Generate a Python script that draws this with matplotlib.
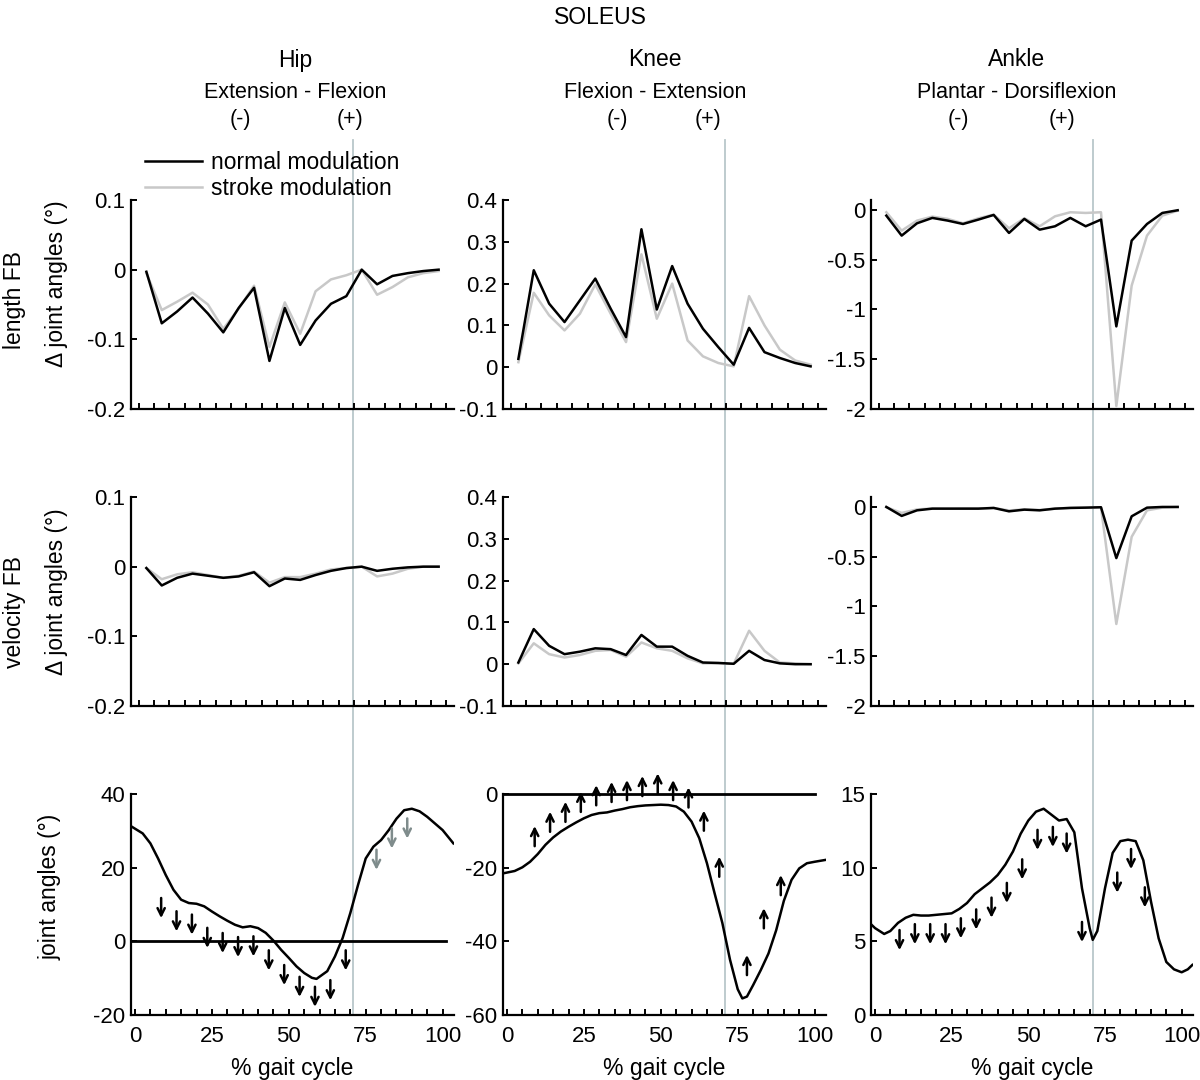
import matplotlib.pyplot as plt
from matplotlib.lines import Line2D
import numpy as np

plt.rcParams['font.family'] = ['Liberation Sans', 'DejaVu Sans']
plt.rcParams['axes.unicode_minus'] = False

# ---- data ----
# feedback rows: one value per 5% bin (bin centres)
bin_x = np.arange(2.5, 100, 5)

len_hip_normal = [-0.003, -0.077, -0.060, -0.040, -0.063, -0.090, -0.055, -0.026, -0.131, -0.055,
                  -0.108, -0.073, -0.049, -0.038, 0.000, -0.021, -0.009, -0.005, -0.002, 0.000]
len_hip_stroke = [-0.005, -0.058, -0.046, -0.033, -0.050, -0.085, -0.056, -0.023, -0.111, -0.047,
                  -0.092, -0.031, -0.014, -0.008, 0.000, -0.036, -0.025, -0.011, -0.005, -0.002]
len_knee_normal = [0.020, 0.232, 0.152, 0.108, 0.160, 0.212, 0.140, 0.072, 0.330, 0.138,
                   0.242, 0.152, 0.092, 0.048, 0.006, 0.094, 0.036, 0.022, 0.010, 0.002]
len_knee_stroke = [0.012, 0.178, 0.124, 0.088, 0.128, 0.198, 0.128, 0.060, 0.270, 0.116,
                   0.200, 0.064, 0.026, 0.010, 0.002, 0.170, 0.100, 0.042, 0.016, 0.006]
len_ankle_normal = [-0.057, -0.258, -0.134, -0.080, -0.107, -0.141, -0.097, -0.050, -0.231, -0.090,
                    -0.198, -0.164, -0.080, -0.164, -0.097, -1.170, -0.308, -0.141, -0.030, -0.003]
len_ankle_stroke = [-0.023, -0.208, -0.107, -0.067, -0.090, -0.134, -0.084, -0.047, -0.184, -0.084,
                    -0.164, -0.064, -0.023, -0.030, -0.023, -1.970, -0.760, -0.258, -0.057, -0.007]

vel_hip_normal = [-0.002, -0.027, -0.016, -0.010, -0.013, -0.016, -0.014, -0.008, -0.028, -0.017,
                  -0.019, -0.012, -0.006, -0.002, 0.000, -0.006, -0.003, -0.001, 0.000, 0.000]
vel_hip_stroke = [-0.002, -0.018, -0.011, -0.008, -0.012, -0.016, -0.013, -0.007, -0.023, -0.015,
                  -0.015, -0.010, -0.004, -0.002, 0.000, -0.014, -0.010, -0.003, 0.000, 0.000]
vel_knee_normal = [0.004, 0.084, 0.044, 0.024, 0.030, 0.038, 0.036, 0.022, 0.070, 0.042,
                   0.042, 0.020, 0.004, 0.003, 0.001, 0.032, 0.010, 0.002, 0.000, 0.000]
vel_knee_stroke = [0.002, 0.050, 0.024, 0.016, 0.022, 0.032, 0.034, 0.018, 0.052, 0.038,
                   0.032, 0.014, 0.002, 0.002, 0.001, 0.080, 0.032, 0.004, 0.002, 0.000]
vel_ankle_normal = [0.000, -0.090, -0.034, -0.017, -0.017, -0.017, -0.017, -0.010, -0.044, -0.027,
                    -0.034, -0.017, -0.010, -0.007, -0.003, -0.514, -0.094, -0.007, 0.000, 0.000]
vel_ankle_stroke = [-0.003, -0.060, -0.025, -0.015, -0.017, -0.015, -0.015, -0.010, -0.035, -0.025,
                    -0.030, -0.017, -0.008, -0.006, -0.003, -1.176, -0.300, -0.034, -0.007, 0.000]

# joint angle trajectories
hip_ang_x = [-1, 2.5, 5, 7.5, 10, 12.5, 15, 17.5, 20, 22.5, 25, 27.5, 30, 32.5, 35, 37.5, 40, 42.5,
             45, 47.5, 50, 52.5, 55, 57.5, 59, 62.5, 65, 67.5, 70, 72.5, 75, 77.5, 80, 82.5, 85,
             87.5, 90, 92.5, 95, 97.5, 100, 103.5]
hip_ang_y = [31.1, 29.3, 26.6, 22.5, 18, 14, 11.3, 10.4, 10.2, 9.5, 8.1, 6.8, 5.6, 4.5, 3.8, 4.1,
             3.6, 2.3, 0.2, -2.3, -4.5, -6.8, -8.6, -9.9, -10.2, -8.1, -4.1, 0.9, 7.7, 15.3, 22.5,
             25.7, 27.5, 30.2, 33.3, 35.6, 36, 35.3, 33.8, 32, 30.2, 26.6]
knee_ang_x = [-1, 2.5, 5, 7.5, 10, 12.5, 15, 17.5, 20, 22.5, 25, 27.5, 30, 32.5, 35, 37.5, 40, 42.5,
              45, 47.5, 50, 52.5, 55, 57.5, 60, 62.5, 65, 67.5, 70, 72.5, 75, 76.5, 78, 80, 82.5,
              85, 87.5, 90, 92.5, 95, 97.5, 100, 103.5]
knee_ang_y = [-21.5, -20.9, -19.9, -18.4, -16.3, -13.8, -11.8, -10.2, -8.9, -7.7, -6.6, -5.7, -5.2,
              -5.0, -4.5, -4.1, -3.6, -3.3, -3.1, -3.0, -2.9, -3.0, -3.4, -4.8, -7.5, -12, -18.8,
              -27, -35, -45, -53, -55.5, -55, -51.9, -47.8, -43.3, -37, -29, -23.3, -20.2, -18.8,
              -18.4, -17.9]
ankle_ang_x = [-1, 0, 3, 5, 7.5, 10, 12.5, 15, 17.5, 20, 22.5, 25, 27.5, 30, 32.5, 35, 37.5, 40,
               42.5, 45, 47.5, 50, 52.5, 55, 57.5, 60, 62.5, 65, 67.5, 70, 71, 72.5, 75, 77.5, 80,
               82.5, 85, 87.5, 90, 92.5, 95, 97.5, 100, 102, 103.5]
ankle_ang_y = [6.1, 5.9, 5.5, 5.7, 6.25, 6.6, 6.8, 6.75, 6.75, 6.8, 6.85, 6.9, 7.2, 7.6, 8.2, 8.6,
               9.0, 9.5, 10.2, 11.1, 12.3, 13.2, 13.8, 14.0, 13.6, 13.2, 13.3, 12.4, 8.6, 5.9, 5.1,
               5.7, 8.6, 11.0, 11.8, 11.9, 11.8, 10.5, 7.7, 5.2, 3.6, 3.1, 2.9, 3.1, 3.4]
hip_zero_x = [-1, 101]
knee_zero_x = [-1, 100]

# arrows (x position, arrow tip)
hip_arrow_x = [8.5, 13.5, 18.5, 23.5, 28.5, 33.5, 38.5, 43.5, 48.5, 53.5, 58.5, 63.5, 68.5]
hip_arrow_tip = [6.3, 2.7, 1.8, -1.8, -3.2, -4.3, -4.1, -7.9, -11.9, -15.1, -17.8, -16, -7.9]
hip_gray_x = [78.5, 83.5, 88.5]
hip_gray_tip = [19.4, 25.2, 27.9]
knee_arrow_x = [9, 14, 19, 24, 29, 34, 39, 44, 49, 54, 59, 64, 69, 78, 83.5, 89]
knee_arrow_tip = [-8.7, -4.8, -2.1, 0.6, 2.4, 3.3, 3.8, 4.9, 5.6, 3.8, 1.8, -4.5, -17, -43.7, -31, -22]
ankle_arrow_x = [8, 13, 18, 23, 28, 33, 38, 43, 48, 53, 58, 62.5, 67.5, 79, 83.5, 88]
ankle_arrow_tip = [4.4, 4.8, 4.8, 4.8, 5.2, 5.8, 6.6, 7.6, 9.2, 11.2, 11.4, 10.95, 4.95, 8.3, 9.9, 7.3]

toe_off = 71

BLACK = 'black'
GRAY = '#c8c8c8'
ARROW_GRAY = '#7f8c8c'
VLINE = '#b9c7ca'

W, H = 1200, 1080
fig = plt.figure(figsize=(12, 10.8), dpi=100)


def px_axes(l, t, r, b):
    return fig.add_axes([l / W, 1 - b / H, (r - l) / W, (b - t) / H])


def style(ax, xlim, ylim, yticks, ylabels, xlabels=False):
    ax.set_facecolor('none')
    ax.spines['top'].set_visible(False)
    ax.spines['right'].set_visible(False)
    ax.spines['left'].set_linewidth(1.6)
    ax.spines['bottom'].set_linewidth(1.6)
    ax.set_xlim(xlim)
    ax.set_ylim(ylim)
    ticks = list(range(0, 101, 5))
    ax.set_xticks(ticks)
    if xlabels:
        ax.set_xticklabels([str(t) if t % 25 == 0 else '' for t in ticks])
    else:
        ax.set_xticklabels([])
    ax.set_yticks(yticks)
    ax.set_yticklabels(ylabels)
    ax.tick_params(direction='in', length=4, width=1.4, labelsize=16, pad=4)
    ax.tick_params(axis='x', pad=8)


cols = [(131, 454), (503, 826), (871, 1193)]
rows = [(200, 409), (497, 706), (794, 1015)]
fb_lim = (-2.5, 102.5)
ang_lim = (-1.3, 103.7)

hip_ticks = ([-0.2, -0.1, 0, 0.1], ['-0.2', '-0.1', '0', '0.1'])
knee_ticks = ([-0.1, 0, 0.1, 0.2, 0.3, 0.4], ['-0.1', '0', '0.1', '0.2', '0.3', '0.4'])
ankle_ticks = ([-2, -1.5, -1, -0.5, 0], ['-2', '-1.5', '-1', '-0.5', '0'])
fb_ylims = [(-0.2, 0.1), (-0.1, 0.4), (-2, 0.1)]
fb_ticks = [hip_ticks, knee_ticks, ankle_ticks]

len_data = [(len_hip_normal, len_hip_stroke), (len_knee_normal, len_knee_stroke),
            (len_ankle_normal, len_ankle_stroke)]
vel_data = [(vel_hip_normal, vel_hip_stroke), (vel_knee_normal, vel_knee_stroke),
            (vel_ankle_normal, vel_ankle_stroke)]

for r, data in enumerate([len_data, vel_data]):
    for c in range(3):
        ax = px_axes(cols[c][0], rows[r][0], cols[c][1], rows[r][1])
        style(ax, fb_lim, fb_ylims[c], fb_ticks[c][0], fb_ticks[c][1])
        normal, stroke = data[c]
        ax.plot(bin_x, stroke, color=GRAY, lw=1.8, label='stroke modulation')
        ax.plot(bin_x, normal, color=BLACK, lw=1.8, label='normal modulation')
        if r == 0 and c == 0:
            h, l = ax.get_legend_handles_labels()
            ax.legend(h[::-1], l[::-1], loc='upper left', bbox_to_anchor=(145 / W, 1 - 151 / H),
                      bbox_transform=fig.transFigure, frameon=False, fontsize=16.5,
                      handlelength=2.5, handletextpad=0.4, labelspacing=0.12,
                      borderpad=0, borderaxespad=0)

# bottom row: joint angles
ang_axes = []
for c in range(3):
    ax = px_axes(cols[c][0], rows[2][0], cols[c][1], rows[2][1])
    ang_axes.append(ax)
    ax.set_xlabel('% gait cycle', fontsize=16.5, labelpad=7)

style(ang_axes[0], ang_lim, (-20, 40), [-20, 0, 20, 40], ['-20', '0', '20', '40'], True)
style(ang_axes[1], ang_lim, (-60, 0), [-60, -40, -20, 0], ['-60', '-40', '-20', '0'], True)
style(ang_axes[2], ang_lim, (0, 15), [0, 5, 10, 15], ['0', '5', '10', '15'], True)

ang_axes[0].plot(hip_ang_x, hip_ang_y, color=BLACK, lw=1.8)
ang_axes[0].plot(hip_zero_x, [0, 0], color=BLACK, lw=2.0)
ang_axes[1].plot(knee_ang_x, knee_ang_y, color=BLACK, lw=1.8)
ang_axes[1].plot(knee_zero_x, [0, 0], color=BLACK, lw=2.0, clip_on=False)
ang_axes[2].plot(ankle_ang_x, ankle_ang_y, color=BLACK, lw=1.8)


def arrows(ax, xs, tips, color, down=True):
    off = 14.5 if down else -14.5
    for x, y in zip(xs, tips):
        ax.annotate('', xy=(x, y), xytext=(0, off), textcoords='offset points',
                    arrowprops=dict(arrowstyle='->', lw=1.8, color=color,
                                    shrinkA=0, shrinkB=0, mutation_scale=13),
                    annotation_clip=False)


arrows(ang_axes[0], hip_arrow_x, hip_arrow_tip, BLACK)
arrows(ang_axes[0], hip_gray_x, hip_gray_tip, ARROW_GRAY)
arrows(ang_axes[1], knee_arrow_x, knee_arrow_tip, BLACK, down=False)
arrows(ang_axes[2], ankle_arrow_x, ankle_arrow_tip, BLACK)

# toe-off line through each column
for ax in ang_axes:
    xd, yd = fig.transFigure.inverted().transform(ax.transData.transform((toe_off, ax.get_ylim()[0])))
    fig.add_artist(Line2D([xd, xd], [yd, 1 - 140 / H], transform=fig.transFigure,
                          color=VLINE, lw=1.3, zorder=-1))

# headers
fig.text(600 / W, 1 - 17 / H, 'SOLEUS', ha='center', va='center', fontsize=16.5)
heads = [('Hip', 'Extension - Flexion', 295, 240, 350),
         ('Knee', 'Flexion - Extension', 655, 617, 708),
         ('Ankle', 'Plantar - Dorsiflexion', 1017, 958, 1062)]
for name, sub, xc, xm, xp in heads:
    fig.text(xc / W, 1 - 60 / H, name, ha='center', va='center', fontsize=16.5)
    fig.text(xc / W, 1 - 92 / H, sub, ha='center', va='center', fontsize=15.5)
    fig.text(xm / W, 1 - 120 / H, '(-)', ha='center', va='center', fontsize=15.5)
    fig.text(xp / W, 1 - 120 / H, '(+)', ha='center', va='center', fontsize=15.5)

# row labels
fig.text(15 / W, 1 - 300 / H, 'length FB', rotation=90, ha='center', va='center', fontsize=16.5)
fig.text(57 / W, 1 - 284 / H, 'Δ joint angles (°)', rotation=90, ha='center', va='center', fontsize=16.5)
fig.text(15 / W, 1 - 612 / H, 'velocity FB', rotation=90, ha='center', va='center', fontsize=16.5)
fig.text(57 / W, 1 - 592 / H, 'Δ joint angles (°)', rotation=90, ha='center', va='center', fontsize=16.5)
fig.text(50 / W, 1 - 887 / H, 'joint angles (°)', rotation=90, ha='center', va='center', fontsize=16.5)

fig.savefig('out.png', dpi=100)
